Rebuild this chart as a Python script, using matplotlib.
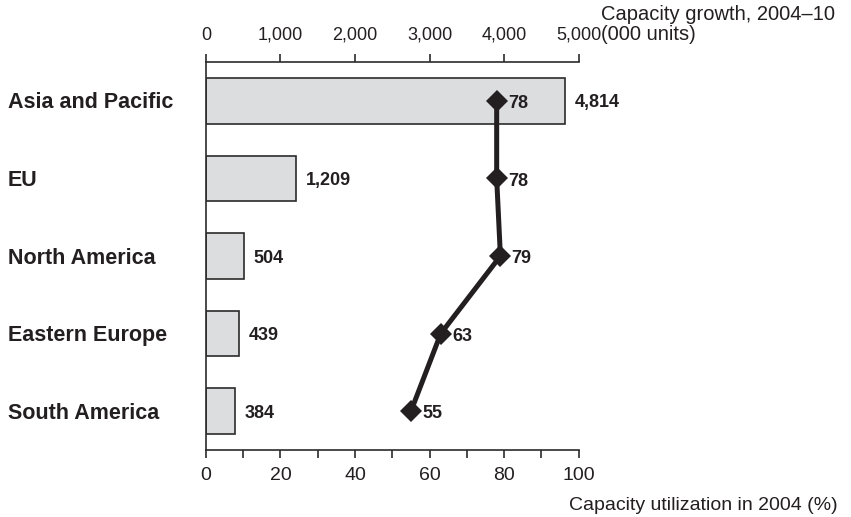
import matplotlib.pyplot as plt
import matplotlib.transforms as mtransforms
from matplotlib.ticker import FuncFormatter, MultipleLocator

plt.rcParams['font.family'] = ['Liberation Sans', 'DejaVu Sans']

regions = ['Asia and Pacific', 'EU', 'North America', 'Eastern Europe', 'South America']
capacity_growth = [4814, 1209, 504, 439, 384]   # 000 units, 2004-10
utilization = [78, 78, 79, 63, 55]              # % in 2004

bar_fill = '#dcdddf'
edge = '#2b2b2b'
ink = '#231f20'

fig = plt.figure(figsize=(8.51, 5.17), dpi=100)
ax = fig.add_axes([0.242, 0.1296, 0.438, 0.7504])
ax2 = ax.twiny()

ypos = list(range(len(regions)))

# bars on the capacity growth axis (top)
ax.barh(ypos, capacity_growth, height=0.59, color=bar_fill, edgecolor=edge,
        linewidth=1.2, zorder=2)
ax.set_xlim(0, 5000)
ax.set_ylim(len(regions) - 0.5, -0.5)
ax.xaxis.tick_top()
ax.set_xticks(range(0, 5001, 1000))
ax.xaxis.set_major_formatter(FuncFormatter(lambda v, p: f'{int(v):,}'))
ax.tick_params(axis='x', direction='out', length=6, width=1.2, color=edge,
               labelsize=13, pad=7, labelcolor=ink)
ax.set_yticks([])
for s in ['right', 'bottom']:
    ax.spines[s].set_visible(False)
for s in ['top', 'left']:
    ax.spines[s].set_linewidth(1.2)
    ax.spines[s].set_color(edge)

# region names, left aligned at the figure edge
lab_tr = mtransforms.blended_transform_factory(fig.transFigure, ax.transData)
for y, name in zip(ypos, regions):
    ax.annotate(name, (8 / 851, y), xycoords=lab_tr, xytext=(0, -1.5),
                textcoords='offset points', ha='left', va='center',
                fontsize=15.5, fontweight='bold', color=ink)

for y, v in zip(ypos, capacity_growth):
    ax.annotate(f'{v:,}', (v, y), xytext=(7, -1.5), textcoords='offset points',
                ha='left', va='center', fontsize=13, fontweight='bold',
                color=ink, zorder=3)

# utilization line on the bottom axis
ax2.set_zorder(ax.get_zorder() + 1)
ax2.patch.set_visible(False)
ax2.plot(utilization, ypos, color=ink, linewidth=3.6, marker='D',
         markersize=11, markeredgewidth=0, solid_joinstyle='miter')
ax2.set_xlim(0, 100)
ax2.set_ylim(len(regions) - 0.5, -0.5)
ax2.xaxis.tick_bottom()
ax2.set_xticks(range(0, 101, 20))
ax2.xaxis.set_minor_locator(MultipleLocator(10))
ax2.tick_params(axis='x', which='both', direction='out', length=6, width=1.2,
                color=edge, labelsize=14, pad=6, labelcolor=ink)
for s in ['right', 'top', 'left']:
    ax2.spines[s].set_visible(False)
ax2.spines['bottom'].set_visible(True)
ax2.spines['bottom'].set_linewidth(1.2)
ax2.spines['bottom'].set_color(edge)

for y, u in zip(ypos, utilization):
    ax2.annotate(str(u), (u, y), xytext=(8, -2), textcoords='offset points',
                 ha='left', va='center', fontsize=13, fontweight='bold',
                 color=ink)

fig.text(601 / 851, 1 - 14 / 517, 'Capacity growth, 2004\u201310', fontsize=14.5,
         ha='left', va='center', color=ink)
fig.text(601 / 851, 1 - 34 / 517, '(000 units)', fontsize=14.5,
         ha='left', va='center', color=ink)
fig.text(838 / 851, 1 - 505 / 517, 'Capacity utilization in 2004 (%)', fontsize=14,
         ha='right', va='center', color=ink)

fig.savefig('out.png', dpi=100)
